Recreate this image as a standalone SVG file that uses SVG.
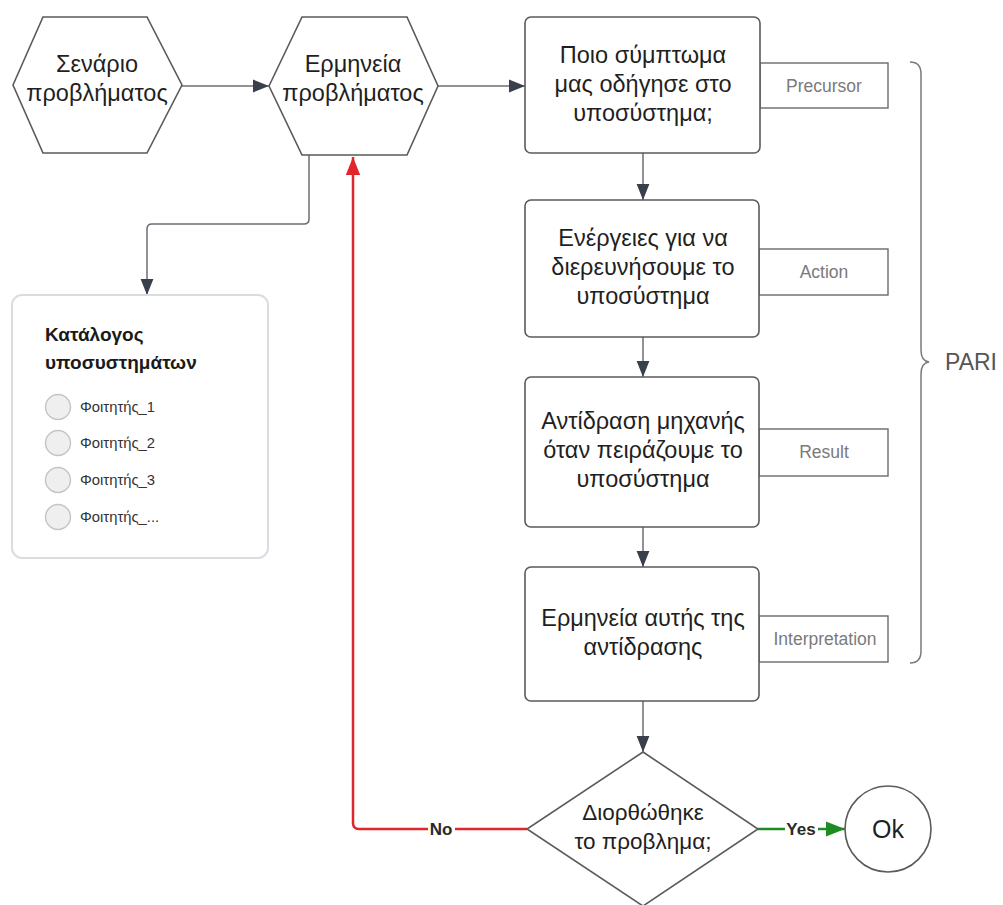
<svg xmlns="http://www.w3.org/2000/svg" width="1003" height="905" viewBox="0 0 1003 905">
  <style>
    .shape { fill: #ffffff; stroke: #5a5a5a; stroke-width: 1.6; }
    .tag { fill: #ffffff; stroke: #6a6a6a; stroke-width: 1.4; }
    .main { font-family: "Liberation Sans", Arial, sans-serif; font-size: 23.5px; fill: #1f1f1f; text-anchor: middle; }
    .tagtxt { font-family: "Liberation Sans", Arial, sans-serif; font-size: 17.5px; fill: #7a7a7a; text-anchor: middle; }
    .wire { fill: none; stroke: #6b6e75; stroke-width: 1.5; }
    .no { fill: none; stroke: #e0262b; stroke-width: 2.5; }
    .yes { fill: none; stroke: #1e8c23; stroke-width: 2.5; }
    .lbl { font-family: "Liberation Sans", Arial, sans-serif; font-size: 17px; fill: #2a2a2a; text-anchor: middle; font-weight: bold; }
    .item { font-family: "Liberation Sans", Arial, sans-serif; font-size: 14.8px; fill: #333333; }
    .dot { fill: #efefef; stroke: #c4c4c4; stroke-width: 1.4; }
  </style>
  <defs>
    <marker id="arrDarkL" viewBox="0 0 10 10" refX="10" refY="5" markerWidth="16" markerHeight="16" markerUnits="userSpaceOnUse" orient="auto">
      <path d="M0,1 L10,5 L0,9 z" fill="#3a3f4c"/>
    </marker>
    <marker id="arrRed" viewBox="0 0 10 10" refX="10" refY="5" markerWidth="18" markerHeight="18" markerUnits="userSpaceOnUse" orient="auto">
      <path d="M0,1 L10,5 L0,9 z" fill="#e0262b"/>
    </marker>
    <marker id="arrGreen" viewBox="0 0 10 10" refX="10" refY="5" markerWidth="19" markerHeight="19" markerUnits="userSpaceOnUse" orient="auto">
      <path d="M0,1 L10,5 L0,9 z" fill="#1e8c23"/>
    </marker>
  </defs>

  <rect width="1003" height="905" fill="#ffffff"/>

  <!-- connectors -->
  <g id="connectors">
    <path class="wire" d="M182,86 L269,86" marker-end="url(#arrDarkL)"/>
    <path class="wire" d="M438,86 L525,86" marker-end="url(#arrDarkL)"/>
    <path class="wire" d="M309,155 L309,219 Q309,224 304,224 L152,224 Q147,224 147,229 L147,295" marker-end="url(#arrDarkL)"/>
    <path class="wire" d="M643,153 L643,200" marker-end="url(#arrDarkL)"/>
    <path class="wire" d="M643,337 L643,377" marker-end="url(#arrDarkL)"/>
    <path class="wire" d="M643,527 L643,567" marker-end="url(#arrDarkL)"/>
    <path class="wire" d="M643,701 L643,752" marker-end="url(#arrDarkL)"/>
    <path class="no" d="M527,829 L455,829 M428,829 L359,829 Q353,829 353,823 L353,157" marker-end="url(#arrRed)"/>
    <text class="lbl" x="441" y="835">No</text>
    <path class="yes" d="M758,829 L785,829"/>
    <path class="yes" d="M818,829 L845,829" marker-end="url(#arrGreen)"/>
    <text class="lbl" x="801" y="835">Yes</text>
  </g>

  <g id="scenario">
    <polygon class="shape" points="13,85 43,17 147,17 182,85 147,153 43,153"/>
    <text class="main" x="97" y="72">Σενάριο</text>
    <text class="main" x="97" y="101">προβλήματος</text>
  </g>

  <g id="interpretation">
    <polygon class="shape" points="269,86 302,17 407,17 438,86 407,155 302,155"/>
    <text class="main" x="353" y="72">Ερμηνεία</text>
    <text class="main" x="353" y="101">προβλήματος</text>
  </g>

  <g id="subsystems">
    <rect x="12" y="295" width="256" height="263" rx="10" fill="#ffffff" stroke="#d9dde2" stroke-width="2"/>
    <text x="45" y="341" font-family="Liberation Sans, Arial, sans-serif" font-size="19" font-weight="bold" fill="#1a1a1a">Κατάλογος</text>
    <text x="45" y="369" font-family="Liberation Sans, Arial, sans-serif" font-size="19" font-weight="bold" fill="#1a1a1a">υποσυστημάτων</text>
    <circle class="dot" cx="58" cy="407" r="12.5"/>
    <text class="item" x="80" y="412">Φοιτητής_1</text>
    <circle class="dot" cx="58" cy="443" r="12.5"/>
    <text class="item" x="80" y="448">Φοιτητής_2</text>
    <circle class="dot" cx="58" cy="480" r="12.5"/>
    <text class="item" x="80" y="485">Φοιτητής_3</text>
    <circle class="dot" cx="58" cy="517" r="12.5"/>
    <text class="item" x="80" y="522">Φοιτητής_...</text>
  </g>

  <g id="precursor">
    <rect class="tag" x="760" y="63" width="128" height="45"/>
    <text class="tagtxt" x="824" y="92">Precursor</text>
    <rect class="shape" x="525" y="17" width="235" height="136" rx="6"/>
    <text class="main" x="643" y="63">Ποιο σύμπτωμα</text>
    <text class="main" x="643" y="92">μας οδήγησε στο</text>
    <text class="main" x="643" y="121">υποσύστημα;</text>
  </g>

  <g id="action">
    <rect class="tag" x="759" y="249" width="129" height="46"/>
    <text class="tagtxt" x="824" y="278">Action</text>
    <rect class="shape" x="525" y="200" width="234" height="137" rx="6"/>
    <text class="main" x="643" y="246">Ενέργειες για να</text>
    <text class="main" x="643" y="275">διερευνήσουμε το</text>
    <text class="main" x="643" y="304">υποσύστημα</text>
  </g>

  <g id="result">
    <rect class="tag" x="759" y="429" width="129" height="47"/>
    <text class="tagtxt" x="824" y="458">Result</text>
    <rect class="shape" x="525" y="377" width="234" height="150" rx="6"/>
    <text class="main" x="643" y="429">Αντίδραση μηχανής</text>
    <text class="main" x="643" y="458">όταν πειράζουμε το</text>
    <text class="main" x="643" y="487">υποσύστημα</text>
  </g>

  <g id="interpretation-step">
    <rect class="tag" x="759" y="616" width="129" height="46"/>
    <text class="tagtxt" x="825" y="645">Interpretation</text>
    <rect class="shape" x="525" y="567" width="234" height="134" rx="6"/>
    <text class="main" x="643" y="626">Ερμηνεία αυτής της</text>
    <text class="main" x="643" y="655">αντίδρασης</text>
  </g>

  <g id="decision">
    <polygon class="shape" points="643,752 758,829 643,906 527,829"/>
    <text class="main" x="643" y="820" style="font-size:22.5px">Διορθώθηκε</text>
    <text class="main" x="643" y="849" style="font-size:22.5px">το προβλημα;</text>
  </g>

  <g id="ok">
    <circle class="shape" cx="888" cy="829" r="43"/>
    <text class="main" x="888" y="838" style="font-size:25px">Ok</text>
  </g>

  <g id="pari">
    <path d="M910,62 Q921,62 921,74 L921,350 Q921,361 929,362 Q921,363 921,374 L921,651 Q921,663 910,663" fill="none" stroke="#7a7a7a" stroke-width="1.5"/>
    <text x="945" y="370" font-family="Liberation Sans, Arial, sans-serif" font-size="23" fill="#555555">PARI</text>
  </g>
</svg>
